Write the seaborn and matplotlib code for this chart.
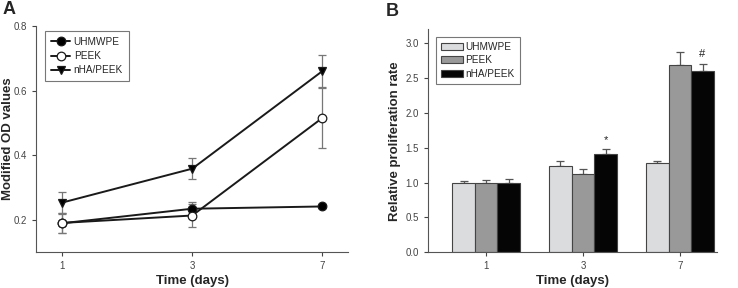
import numpy as np
import pandas as pd
import seaborn as sns
import matplotlib.pyplot as plt

# Data
days = ["1", "3", "7"]
groups = ["UHMWPE", "PEEK", "nHA/PEEK"]

# Panel A: modified OD values
od_uhmwpe = [0.189, 0.234, 0.241]
od_peek = [0.190, 0.213, 0.515]
od_nha = [0.253, 0.358, 0.660]
od_err_uhmwpe = [0.030, 0.020, 0.004]
od_err_peek = [0.030, 0.037, 0.092]
od_err_nha = [0.032, 0.032, 0.050]

# Panel B: relative proliferation rate
pr_uhmwpe = [1.00, 1.245, 1.285]
pr_peek = [1.00, 1.125, 2.69]
pr_nha = [1.00, 1.41, 2.60]
pr_err_uhmwpe = [0.03, 0.07, 0.03]
pr_err_peek = [0.04, 0.07, 0.18]
pr_err_nha = [0.05, 0.07, 0.11]
marks = ["", "*", "#"]

sns.set_style("ticks")
plt.rcParams['font.family'] = ['Liberation Sans', 'DejaVu Sans']

fig = plt.figure(figsize=(7.38, 2.88), dpi=100)
axA = fig.add_axes([0.049, 0.125, 0.423, 0.785])
axB = fig.add_axes([0.580, 0.124, 0.392, 0.774])

# ---- Panel A
dfA = pd.DataFrame({
    "pos": list(range(len(days))) * 3,
    "od": od_uhmwpe + od_peek + od_nha,
    "err": od_err_uhmwpe + od_err_peek + od_err_nha,
    "group": [g for g in groups for _ in days],
})
styles = {"UHMWPE": ("o", "black"), "PEEK": ("o", "white"), "nHA/PEEK": ("v", "black")}
for g in groups:
    sub = dfA[dfA.group == g]
    axA.errorbar(sub.pos, sub.od, yerr=sub.err, fmt="none", ecolor="#777777",
                 elinewidth=0.9, capsize=3, capthick=0.9, zorder=2)
for g in groups:
    sub = dfA[dfA.group == g]
    m, fc = styles[g]
    sns.lineplot(data=sub, x="pos", y="od", ax=axA, color="#1a1a1a", lw=1.4,
                 marker=m, markersize=6.2, markerfacecolor=fc, markeredgecolor="#1a1a1a",
                 markeredgewidth=0.9, label=g, zorder=3)
axA.set_xlim(-0.2, 2.2)
axA.set_ylim(0.1, 0.8)
axA.set_xticks(range(len(days)))
axA.set_xticklabels(days)
axA.set_yticks([0.2, 0.4, 0.6, 0.8])
axA.set_xlabel("Time (days)", fontsize=9.5, fontweight="bold", labelpad=3)
axA.set_ylabel("Modified OD values", fontsize=9.5, fontweight="bold")
axA.yaxis.set_label_coords(-0.072, 0.5)
legA = axA.legend(loc="upper left", bbox_to_anchor=(0.029, 0.978), borderaxespad=0,
                  fontsize=7.2, frameon=True, fancybox=False, handlelength=1.9,
                  borderpad=0.6, labelspacing=0.42, handletextpad=0.35)
legA.get_frame().set_edgecolor("#555555")
legA.get_frame().set_linewidth(0.8)
fig.text(0.004, 0.95, "A", fontsize=13, fontweight="bold")

# ---- Panel B
dfB = pd.DataFrame({
    "day": days * 3,
    "rate": pr_uhmwpe + pr_peek + pr_nha,
    "err": pr_err_uhmwpe + pr_err_peek + pr_err_nha,
    "group": [g for g in groups for _ in days],
})
palette = {"UHMWPE": "#d9dcdf", "PEEK": "#999999", "nHA/PEEK": "#050505"}
sns.barplot(data=dfB, x="day", y="rate", hue="group", hue_order=groups, order=days,
            palette=palette, width=0.7, gap=0, edgecolor="#444444", linewidth=0.8,
            errorbar=None, ax=axB, zorder=2)
for container, g in zip(axB.containers, groups):
    sub = dfB[dfB.group == g].set_index("day").loc[days]
    xs = [b.get_x() + b.get_width() / 2 for b in container]
    axB.errorbar(xs, sub.rate, yerr=[np.zeros(len(days)), sub.err], fmt="none",
                 ecolor="#555555", elinewidth=0.9, capsize=3, capthick=0.9, zorder=1)
    if g == "nHA/PEEK":
        for x, v, e, mk in zip(xs, sub.rate, sub.err, marks):
            if mk:
                axB.text(x, v + e + 0.06, mk, ha="center", va="bottom", fontsize=8,
                         color="#222222")
axB.set_xlim(-0.6, 2.386)
axB.set_ylim(0, 3.2)
axB.set_yticks([0.0, 0.5, 1.0, 1.5, 2.0, 2.5, 3.0])
axB.set_xlabel("Time (days)", fontsize=9.5, fontweight="bold", labelpad=3)
axB.set_ylabel("Relative proliferation rate", fontsize=9.5, fontweight="bold")
axB.yaxis.set_label_coords(-0.095, 0.5)
legB = axB.legend(loc="upper left", bbox_to_anchor=(0.026, 0.967), borderaxespad=0,
                  fontsize=7.2, frameon=True, fancybox=False, handlelength=2.2,
                  borderpad=0.5, labelspacing=0.35, handletextpad=0.3)
legB.get_frame().set_edgecolor("#555555")
legB.get_frame().set_linewidth(0.8)
fig.text(0.523, 0.945, "B", fontsize=13, fontweight="bold")

for ax in (axA, axB):
    sns.despine(ax=ax)
    for s in ("left", "bottom"):
        ax.spines[s].set_color("#555555")
        ax.spines[s].set_linewidth(0.8)
    ax.tick_params(labelsize=7, colors="#444444", length=3, width=0.8)

fig.savefig("out.png", dpi=100)
